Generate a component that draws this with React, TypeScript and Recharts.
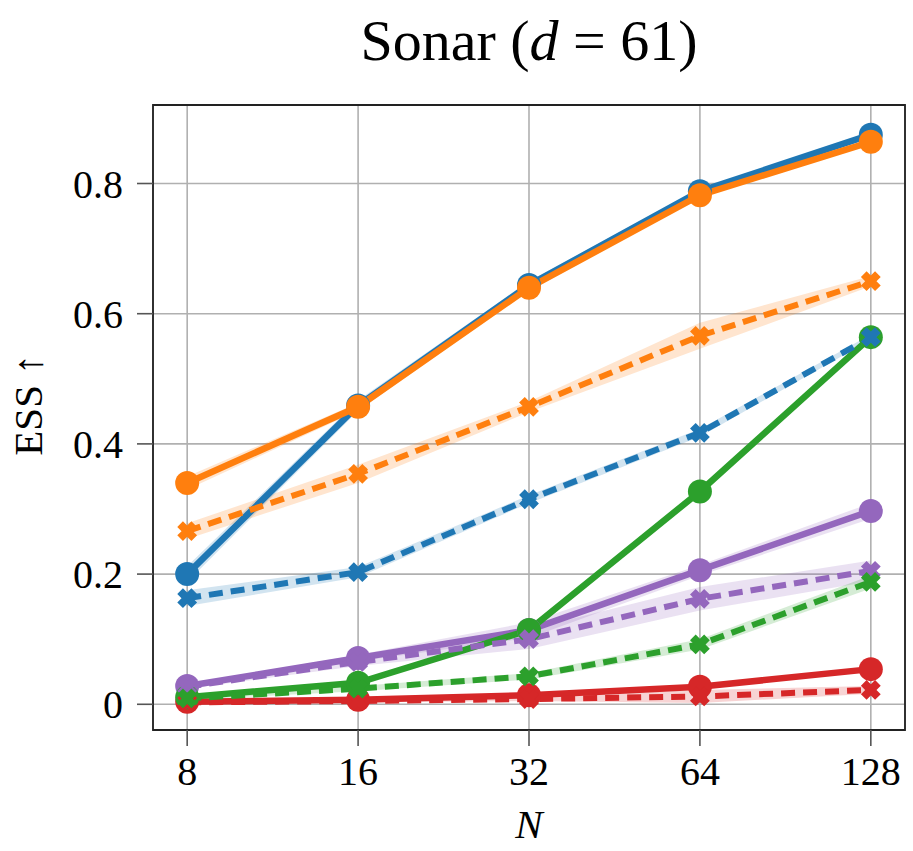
import {
  Area,
  CartesianGrid,
  ComposedChart,
  Line,
  ReferenceArea,
  XAxis,
  YAxis,
} from "recharts";

// N values (log2 scale on the x axis)
const nValues = [8, 16, 32, 64, 128];
const yTicks = [0, 0.2, 0.4, 0.6, 0.8];

// mean ESS per series
const blueSolid = [0.2, 0.459, 0.644, 0.788, 0.875];
const orangeSolid = [0.34, 0.457, 0.64, 0.782, 0.864];
const redSolid = [0.004, 0.007, 0.014, 0.027, 0.054];
const purpleSolid = [0.028, 0.071, 0.114, 0.206, 0.297];
const greenSolid = [0.011, 0.033, 0.114, 0.327, 0.564];

const blueDashed = [0.163, 0.203, 0.315, 0.417, 0.564];
const orangeDashed = [0.266, 0.354, 0.457, 0.566, 0.65];
const redDashed = [0.003, 0.005, 0.008, 0.012, 0.022];
const purpleDashed = [0.027, 0.065, 0.1, 0.162, 0.205];
const greenDashed = [0.009, 0.024, 0.043, 0.092, 0.188];

// half-width of the shaded bands
const blueSolidErr = [0.012, 0.008, 0.006, 0.004, 0.003];
const orangeSolidErr = [0.01, 0.006, 0.005, 0.004, 0.004];
const redSolidErr = [0.001, 0.002, 0.002, 0.003, 0.004];
const purpleSolidErr = [0.003, 0.005, 0.012, 0.008, 0.012];
const greenSolidErr = [0.002, 0.003, 0.004, 0.004, 0.004];

const blueDashedErr = [0.012, 0.008, 0.006, 0.006, 0.004];
const orangeDashedErr = [0.012, 0.014, 0.008, 0.02, 0.008];
const redDashedErr = [0.001, 0.002, 0.003, 0.01, 0.006];
const purpleDashedErr = [0.003, 0.006, 0.015, 0.018, 0.016];
const greenDashedErr = [0.002, 0.004, 0.005, 0.008, 0.01];

const BLUE = "#1f77b4";
const ORANGE = "#ff7f0e";
const GREEN = "#2ca02c";
const RED = "#d62728";
const PURPLE = "#9467bd";

const series = [
  { key: "blueSolid", values: blueSolid, err: blueSolidErr, color: BLUE, dashed: false },
  { key: "orangeSolid", values: orangeSolid, err: orangeSolidErr, color: ORANGE, dashed: false },
  { key: "redSolid", values: redSolid, err: redSolidErr, color: RED, dashed: false },
  { key: "purpleSolid", values: purpleSolid, err: purpleSolidErr, color: PURPLE, dashed: false },
  { key: "greenSolid", values: greenSolid, err: greenSolidErr, color: GREEN, dashed: false },
  { key: "blueDashed", values: blueDashed, err: blueDashedErr, color: BLUE, dashed: true },
  { key: "orangeDashed", values: orangeDashed, err: orangeDashedErr, color: ORANGE, dashed: true },
  { key: "redDashed", values: redDashed, err: redDashedErr, color: RED, dashed: true },
  { key: "purpleDashed", values: purpleDashed, err: purpleDashedErr, color: PURPLE, dashed: true },
  { key: "greenDashed", values: greenDashed, err: greenDashedErr, color: GREEN, dashed: true },
];

const data = nValues.map((n, i) => {
  const row: Record<string, any> = { x: Math.log2(n) };
  series.forEach((s) => {
    row[s.key] = s.values[i];
    row[s.key + "Band"] = [s.values[i] - s.err[i], s.values[i] + s.err[i]];
  });
  return row;
});

const FONT = "'Liberation Serif', 'DejaVu Serif', serif";
const Y_DOMAIN: [number, number] = [-0.0395, 0.9206];
const X_DOMAIN: [number, number] = [2.8, 7.2];

// filled "X" marker like matplotlib's 'X'
function xMarkerPath(cx: number, cy: number, a = 10, t = 4) {
  const pts = [
    [-t, -a], [t, -a], [t, -t], [a, -t], [a, t], [t, t],
    [t, a], [-t, a], [-t, t], [-a, t], [-a, -t], [-t, -t],
  ];
  const c = Math.SQRT1_2;
  return (
    pts
      .map(([px, py], i) => {
        const rx = cx + (px - py) * c;
        const ry = cy + (px + py) * c;
        return `${i === 0 ? "M" : "L"}${rx.toFixed(2)},${ry.toFixed(2)}`;
      })
      .join(" ") + " Z"
  );
}

function makeXDot(name: string, color: string) {
  return (props: any) => {
    const { cx, cy, index } = props;
    if (cx == null || cy == null) return <g key={`${name}-${index}`} />;
    return <path key={`${name}-${index}`} d={xMarkerPath(cx, cy)} fill={color} />;
  };
}

export default function App() {
  return (
    <div style={{ position: "absolute", left: 0, top: 0, width: 913, height: 851, background: "#fff", fontFamily: FONT }}>
      <div
        style={{
          position: "absolute",
          left: 153,
          width: 752,
          top: 12,
          textAlign: "center",
          fontSize: 58,
          lineHeight: 1,
          color: "#000",
        }}
      >
        Sonar (<i>d</i> = 61)
      </div>
      <div
        style={{
          position: "absolute",
          left: 28,
          top: 405,
          transform: "translate(-50%, -50%) rotate(-90deg)",
          fontSize: 41,
          lineHeight: 1,
          whiteSpace: "nowrap",
          color: "#000",
        }}
      >
        ESS ↑
      </div>
      <div
        style={{
          position: "absolute",
          left: 153,
          width: 752,
          top: 804,
          textAlign: "center",
          fontSize: 41,
          lineHeight: 1,
          fontStyle: "italic",
          color: "#000",
        }}
      >
        N
      </div>
      <ComposedChart
        width={913}
        height={851}
        data={data}
        margin={{ top: 105, right: 8, bottom: 0, left: 0 }}
      >
        <CartesianGrid stroke="#b0b0b0" strokeWidth={1.6} />
        <XAxis
          dataKey="x"
          type="number"
          domain={X_DOMAIN}
          ticks={[3, 4, 5, 6, 7]}
          tickFormatter={(v) => String(Math.round(Math.pow(2, v)))}
          allowDataOverflow
          height={121}
          axisLine={false}
          tickLine={{ stroke: "#555", strokeWidth: 1.6 }}
          tickSize={16}
          tickMargin={11}
          tick={{ fontSize: 40, fill: "#000", fontFamily: FONT }}
        />
        <YAxis
          type="number"
          domain={Y_DOMAIN}
          ticks={yTicks}
          tickFormatter={(v) => (v === 0 ? "0" : v.toFixed(1))}
          allowDataOverflow
          width={153}
          axisLine={false}
          tickLine={{ stroke: "#555", strokeWidth: 1.6 }}
          tickSize={16}
          tickMargin={14}
          tick={{ fontSize: 40, fill: "#000", fontFamily: FONT }}
        />
        {series.map((s) => (
          <Area
            key={s.key + "Band"}
            dataKey={s.key + "Band"}
            type="linear"
            stroke="none"
            fill={s.color}
            fillOpacity={0.2}
            isAnimationActive={false}
            activeDot={false}
          />
        ))}
        {series.map((s) => (
          <Line
            key={s.key}
            dataKey={s.key}
            type="linear"
            stroke={s.color}
            strokeWidth={s.dashed ? 6 : 6.5}
            strokeDasharray={s.dashed ? "14 8" : undefined}
            dot={s.dashed ? makeXDot(s.key, s.color) : { r: 12, fill: s.color, stroke: "none" }}
            activeDot={false}
            isAnimationActive={false}
          />
        ))}
        <ReferenceArea
          x1={X_DOMAIN[0]}
          x2={X_DOMAIN[1]}
          y1={Y_DOMAIN[0]}
          y2={Y_DOMAIN[1]}
          fill="none"
          stroke="#222"
          strokeWidth={1.8}
          ifOverflow="visible"
        />
      </ComposedChart>
    </div>
  );
}
